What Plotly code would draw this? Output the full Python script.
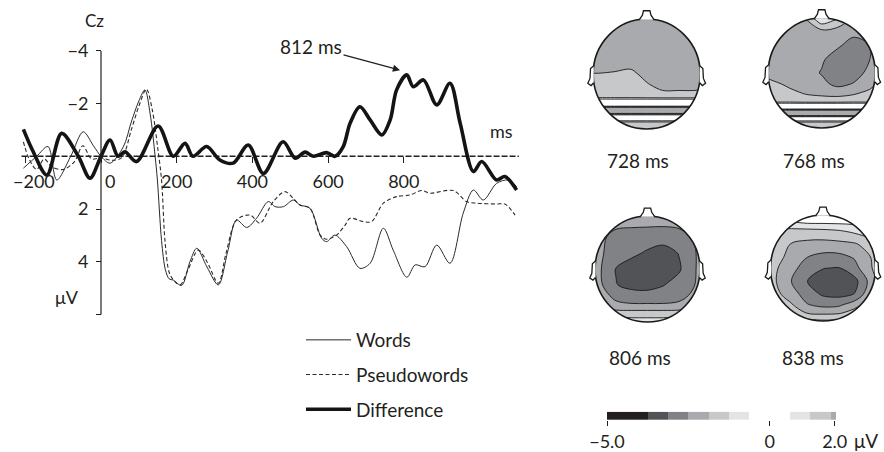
import numpy as np
import plotly.graph_objects as go

W, H = 884, 452

# ---------------- ERP waveforms at Cz (ms, microvolts; negative up) ----------------
words_ms = [-205, -170, -140, -117, -80, -47, -20, 0, 24, 59, 80, 100, 116, 130, 143, 149, 160, 170, 180,
            191, 213, 235, 253, 280, 310, 335, 358, 385, 411, 442, 460, 482, 508, 526, 552, 583, 596,
            618, 649, 684, 711, 746, 772, 808, 830, 856, 887, 922, 957, 984, 1010, 1045, 1076, 1098]
words_uv = [0.45, 0.0, -0.37, 0.9, 0.0, -0.93, -0.4, 0.0, 0.26, -0.36, -1.3, -2.1, -2.52, -1.6, 0.0, 0.9, 3.2, 4.3, 4.65,
            4.7, 4.9, 4.0, 3.49, 4.2, 4.88, 3.6, 2.42, 2.7, 2.35, 1.72, 1.91, 1.91, 1.66, 1.85, 1.97, 3.11, 3.24,
            2.99, 3.43, 4.25, 4.06, 2.73, 3.56, 4.59, 4.12, 4.19, 3.37, 4.06, 2.16, 1.28, 1.66, 1.03, 0.9, 1.15]

pseudo_ms = [-205, -190, -170, -150, -130, -100, -70, -48, -25, 0, 28, 55, 80, 100, 120, 135, 150, 160, 169,
             180, 191, 209, 230, 257, 280, 310, 330, 358, 394, 420, 455, 486, 508, 526, 552, 579, 596, 622,
             645, 658, 693, 715, 746, 781, 816, 847, 869, 931, 966, 993, 1045, 1067, 1094]
pseudo_uv = [-0.55, 0.1, 0.5, 0.1, 0.4, 0.5, 0.2, -0.4, 0.1, 0.05, 0.15, 0.05, -1.0, -1.9, -2.55, -1.8, -0.3, 0.9, 3.2,
             4.4, 4.69, 4.88, 4.3, 3.56, 4.0, 4.82, 3.7, 2.42, 2.23, 2.54, 1.72, 1.34, 1.6, 1.85, 1.97, 2.99, 3.15, 2.99,
             2.61, 2.35, 2.48, 2.48, 1.78, 1.53, 1.47, 1.3, 1.4, 1.3, 1.72, 1.78, 1.81, 1.81, 2.23]

diff_ms = [-205, -180, -143, -104, -60, -29, 0, 24, 45, 63, 94, 151, 191, 222, 243, 279, 314, 349, 389, 429,
           481, 513, 539, 561, 596, 618, 640, 658, 684, 711, 742, 764, 781, 808, 825, 852, 887, 922, 949,
           984, 1006, 1045, 1067, 1098]
diff_uv = [-1.02, -0.2, 0.71, -0.87, 0.0, 0.83, 0.0, -0.62, 0.0, -0.17, 0.2, -1.15, 0.0, -0.49, 0.0, -0.37, 0.14, 0.26, -0.43, 0.65,
           -0.55, 0.07, -0.16, 0.0, -0.14, 0.0, -0.37, -1.25, -1.88, -1.38, -0.81, -1.38, -2.52, -3.09, -2.64, -2.9, -1.95, -2.77, -1.25,
           0.58, 0.2, 0.9, 0.77, 1.28]

series_names = ["Words", "Pseudowords", "Difference"]

x_tick_vals = [-200, 0, 200, 400, 600, 800]
x_tick_text = ["", "\u00a0\u00a0\u00a0\u00a00", "200", "400", "600", "800"]
first_tick_label = "\u2212200"
y_tick_vals = [-4, -2, 2, 4, 6]
y_tick_text = ["\u22124", "\u22122", "2", "4", ""]

peak_label = "812 ms"
peak_ms, peak_uv = 790, -3.27

# ---------------- Scalp topographies (values in microvolts on a head grid) ----------------
map_u = [-1.1, -0.9, -0.6, -0.3, 0.0, 0.3, 0.6, 0.9, 1.1]
map_labels = ["728 ms", "768 ms", "806 ms", "838 ms"]

map1_v = [1.15, 0.6, 0.2, 0.0, -0.2, -0.42, -0.47, -0.58, -0.61, -0.71, -0.75, -0.84, -0.88, -1.15]
map1_z = [
    [-2.2, -2.2, -2.2, -2.2, -2.2, -2.2, -2.2, -2.2, -2.2],
    [-2.2, -2.2, -2.2, -2.2, -2.2, -2.2, -2.2, -2.2, -2.2],
    [-2.2, -2.2, -2.15, -2.1, -2.2, -2.2, -2.2, -2.2, -2.2],
    [-1.85, -1.85, -1.8, -1.7, -2.1, -2.2, -2.2, -2.2, -2.2],
    [-1.5, -1.5, -1.5, -1.5, -1.8, -2.1, -2.1, -2.1, -2.0],
    [-1.5, -1.5, -1.5, -1.5, -1.55, -1.6, -1.6, -1.6, -1.6],
    [-0.3, -0.3, -0.3, -0.3, -0.3, -0.3, -0.3, -0.3, -0.3],
    [-0.3, -0.3, -0.3, -0.3, -0.3, -0.3, -0.3, -0.3, -0.3],
    [-2.2, -2.2, -2.2, -2.2, -2.2, -2.2, -2.2, -2.2, -2.2],
    [-2.2, -2.2, -2.2, -2.2, -2.2, -2.2, -2.2, -2.2, -2.2],
    [-0.3, -0.3, -0.3, -0.3, -0.3, -0.3, -0.3, -0.3, -0.3],
    [-0.3, -0.3, -0.3, -0.3, -0.3, -0.3, -0.3, -0.3, -0.3],
    [-1.5, -1.5, -1.5, -1.5, -1.5, -1.5, -1.5, -1.5, -1.5],
    [-1.5, -1.5, -1.5, -1.5, -1.5, -1.5, -1.5, -1.5, -1.5],
]

map2_v = [1.15, 0.95, 0.75, 0.5, 0.25, 0.0, -0.2, -0.35, -0.52, -0.56, -0.65, -0.68, -0.77, -0.8, -0.86, -0.9, -1.15]
map2_z = [
    [-2.2, -2.2, -2.2, -1.2, -0.3, -0.6, -2.2, -2.2, -2.2],
    [-2.2, -2.2, -2.2, -2.0, -0.9, -1.4, -2.2, -2.2, -2.2],
    [-2.2, -2.2, -2.2, -2.2, -2.1, -2.2, -2.3, -2.2, -2.2],
    [-2.2, -2.2, -2.2, -2.2, -2.2, -2.4, -2.8, -2.5, -2.2],
    [-2.2, -2.2, -2.2, -2.2, -2.4, -2.85, -2.85, -2.5, -2.2],
    [-2.0, -2.2, -2.2, -2.2, -2.55, -2.9, -2.8, -2.3, -2.1],
    [-1.6, -1.75, -2.0, -2.1, -2.3, -2.7, -2.45, -2.1, -1.7],
    [-1.5, -1.5, -1.75, -1.95, -2.05, -2.1, -2.0, -1.75, -1.5],
    [-1.5, -1.5, -1.5, -1.6, -1.6, -1.6, -1.5, -1.5, -1.5],
    [-0.3, -0.3, -0.3, -0.3, -0.3, -0.3, -0.3, -0.3, -0.3],
    [-0.3, -0.3, -0.3, -0.3, -0.3, -0.3, -0.3, -0.3, -0.3],
    [-2.2, -2.2, -2.2, -2.2, -2.2, -2.2, -2.2, -2.2, -2.2],
    [-2.2, -2.2, -2.2, -2.2, -2.2, -2.2, -2.2, -2.2, -2.2],
    [-0.3, -0.3, -0.3, -0.3, -0.3, -0.3, -0.3, -0.3, -0.3],
    [-0.3, -0.3, -0.3, -0.3, -0.3, -0.3, -0.3, -0.3, -0.3],
    [-1.5, -1.5, -1.5, -1.5, -1.5, -1.5, -1.5, -1.5, -1.5],
    [-1.5, -1.5, -1.5, -1.5, -1.5, -1.5, -1.5, -1.5, -1.5],
]

map3_v = [1.15, 0.9, 0.6, 0.3, 0.0, -0.3, -0.5, -0.65, -0.75, -0.85, -0.95, -1.15]
map3_z = [
    [-1.5, -1.5, -1.8, -2.2, -2.2, -2.2, -1.8, -1.5, -1.5],
    [-1.5, -2.0, -2.2, -2.3, -2.3, -2.3, -2.2, -2.0, -1.5],
    [-1.7, -2.3, -2.8, -2.8, -2.85, -2.9, -2.85, -2.4, -1.7],
    [-1.8, -2.4, -2.85, -3.0, -3.2, -3.35, -3.1, -2.6, -1.8],
    [-1.8, -2.45, -3.15, -3.4, -3.45, -3.4, -3.2, -2.6, -1.8],
    [-1.8, -2.4, -3.1, -3.3, -3.3, -3.15, -2.9, -2.5, -1.8],
    [-1.7, -2.2, -2.7, -2.9, -2.95, -2.9, -2.8, -2.3, -1.7],
    [-1.5, -2.0, -2.4, -2.5, -2.5, -2.5, -2.4, -2.0, -1.5],
    [-1.2, -1.6, -2.0, -2.0, -2.0, -2.0, -2.0, -1.6, -1.2],
    [-0.8, -1.2, -1.5, -1.6, -1.6, -1.6, -1.5, -1.2, -0.8],
    [-0.3, -0.6, -1.0, -1.1, -1.1, -1.1, -1.0, -0.6, -0.3],
    [-0.3, -0.3, -0.3, -0.3, -0.3, -0.3, -0.3, -0.3, -0.3],
]

map4_v = [1.15, 0.9, 0.7, 0.45, 0.2, 0.0, -0.25, -0.5, -0.7, -0.85, -0.95, -1.15]
map4_z = [
    [-0.3, -0.3, -0.3, -0.3, -0.3, -0.3, -0.3, -0.4, -0.6],
    [-0.8, -0.7, -0.5, -0.3, -0.3, -0.3, -0.3, -0.3, -0.3],
    [-1.2, -1.4, -1.45, -1.45, -1.4, -1.3, -1.1, -0.8, -0.6],
    [-1.3, -1.7, -1.9, -2.05, -2.1, -2.05, -1.95, -1.6, -1.2],
    [-1.4, -1.75, -2.0, -2.5, -2.7, -2.7, -2.45, -1.9, -1.3],
    [-1.4, -1.8, -2.3, -2.8, -3.1, -3.15, -2.7, -2.0, -1.3],
    [-1.45, -1.85, -2.5, -3.12, -3.4, -3.5, -3.35, -2.3, -1.5],
    [-1.3, -1.7, -2.2, -2.8, -3.2, -3.3, -3.1, -2.0, -1.3],
    [-1.0, -1.3, -1.8, -2.45, -2.65, -2.6, -2.1, -1.5, -1.0],
    [-0.7, -1.0, -1.4, -1.9, -2.0, -1.95, -1.6, -1.1, -0.7],
    [-0.4, -0.7, -1.0, -1.3, -1.4, -1.35, -1.1, -0.8, -0.4],
    [-0.3, -0.3, -0.3, -0.5, -0.5, -0.5, -0.3, -0.3, -0.3],
]

maps_v = [map1_v, map2_v, map3_v, map4_v]
maps_z = [map1_z, map2_z, map3_z, map4_z]

# colour scale (microvolt levels and the grey of each band above a level)
scale_levels = [-5.0, -4.375, -3.75, -3.125, -2.5, -1.875, -1.25, -0.625, 0.0, 0.625, 1.25, 1.875]
scale_colors = ["#231f20", "#231f20", "#525356", "#818285", "#a9aaad", "#c7c8ca",
                "#e3e4e5", "#ffffff", "#ffffff", "#e3e4e5", "#c7c8ca", "#a9aaad"]
scale_tick_vals = [-5, 0, 2]
scale_tick_text = ["\u22125.0", "0", "2.0"]

# ---------------- helpers ----------------
FONT = "Lato, 'Open Sans', sans-serif"
INK = "#231f20"


def px_x(p):
    return p / W


def px_y(p):
    return 1 - p / H


n_lev = len(scale_levels)
cscale = []
for k, c in enumerate(scale_colors):
    lo = 0.0 if k == 0 else (k + 0.5) / n_lev
    hi = 1.0 if k == n_lev - 1 else (k + 1.5) / n_lev
    cscale.append([lo, c])
    cscale.append([hi, c])

fig = go.Figure()

# ---------------- ERP traces ----------------
fig.add_trace(go.Scatter(x=words_ms, y=words_uv, mode="lines", name=series_names[0],
                         line=dict(color="#2a2a2a", width=1.0, shape="spline", smoothing=0.9),
                         legendgroup="a", hoverinfo="skip"))
fig.add_trace(go.Scatter(x=pseudo_ms, y=pseudo_uv, mode="lines", name=series_names[1],
                         line=dict(color="#2a2a2a", width=1.1, dash="4px,2.5px", shape="spline", smoothing=0.9),
                         legendgroup="b", hoverinfo="skip"))
fig.add_trace(go.Scatter(x=diff_ms, y=diff_uv, mode="lines", name=series_names[2],
                         line=dict(color="#141414", width=3.6, shape="spline", smoothing=0.9),
                         legendgroup="c", hoverinfo="skip"))

# ---------------- topomaps ----------------
map_geom = [  # centre x, centre y, radius x, radius y (px)
    (646.7, 74, 53.5, 55),
    (821.7, 73, 53.5, 55),
    (647.5, 269, 52.5, 53),
    (823.0, 268, 52.5, 53),
]
UR, VR = 1.15, 1.2
for i in range(4):
    ax = i + 2
    fig.add_trace(go.Contour(
        x=map_u, y=maps_v[i][::-1], z=maps_z[i][::-1],
        autocontour=False,
        contours=dict(start=scale_levels[0], end=scale_levels[-1], size=scale_levels[1] - scale_levels[0],
                      coloring="fill", showlines=True),
        line=dict(color="#1a1a1a", width=0.9, smoothing=1.0),
        colorscale=cscale, showscale=False, hoverinfo="skip",
        xaxis=f"x{ax}", yaxis=f"y{ax}", showlegend=False))

# colour bar
scale_edges = scale_levels + [scale_levels[-1] + (scale_levels[1] - scale_levels[0])]
fig.add_trace(go.Heatmap(x=scale_edges, y=[0, 1], z=[list(range(n_lev))], zmin=-1, zmax=n_lev - 1,
                         colorscale=cscale, showscale=False, hoverinfo="skip",
                         xaxis="x6", yaxis="y6", showlegend=False))

# ---------------- layout ----------------
x_lo_px, x_hi_px = 20, 520
ms0_px, px_per_ms = 101.0, 0.3785
y_top_px, y_bot_px = 40, 320
uv0_px, px_per_uv = 156.3, 26.35

layout = dict(
    template="none",
    width=W, height=H, margin=dict(l=0, r=0, t=0, b=0, pad=0, autoexpand=False),
    paper_bgcolor="white", plot_bgcolor="rgba(0,0,0,0)",
    font=dict(family=FONT, color=INK, size=18),
    showlegend=True,
    legend=dict(x=px_x(301), y=px_y(321), xanchor="left", yanchor="top",
                traceorder="grouped", tracegroupgap=7, itemwidth=45,
                font=dict(family=FONT, size=19, color=INK), bgcolor="rgba(0,0,0,0)", borderwidth=0),
    xaxis=dict(domain=[px_x(x_lo_px), px_x(x_hi_px)],
               range=[(x_lo_px - ms0_px) / px_per_ms, (x_hi_px - ms0_px) / px_per_ms],
               anchor="free", position=px_y(uv0_px), showline=False, showgrid=False, zeroline=False,
               automargin=False,
               tickvals=x_tick_vals, ticktext=x_tick_text, ticks="outside", ticklen=6, tickwidth=1,
               tickcolor=INK, tickfont=dict(size=18, family=FONT, color=INK), ticklabelstandoff=3),
    yaxis=dict(domain=[px_y(y_bot_px), px_y(y_top_px)],
               range=[(y_bot_px - uv0_px) / px_per_uv, (y_top_px - uv0_px) / px_per_uv],
               anchor="free", position=px_x(ms0_px), showline=False, showgrid=False, zeroline=False,
               automargin=False,
               tickvals=y_tick_vals, ticktext=y_tick_text, ticks="outside", ticklen=5, tickwidth=1,
               tickcolor=INK, tickfont=dict(size=18, family=FONT, color=INK), ticklabelstandoff=4),
)

theta = np.linspace(0, 2 * np.pi, 97)
circle_pts = "L".join(f"{np.cos(t):.4f},{np.sin(t):.4f}" for t in theta)
mask_path = "M-1.6,-1.6L1.6,-1.6L1.6,1.6L-1.6,1.6Z M" + circle_pts + "Z"
nose_path = "M-0.14,0.985L-0.08,1.07L-0.06,1.15L0.06,1.15L0.08,1.07L0.14,0.985"
ear_l = "M-0.99,0.15L-1.05,0.1L-1.06,-0.08L-1.1,-0.17L-1.04,-0.21L-0.99,-0.16"
ear_r = "M0.99,0.15L1.05,0.1L1.06,-0.08L1.1,-0.17L1.04,-0.21L0.99,-0.16"

shapes = [
    dict(type="line", xref="x", yref="y", x0=0, x1=0, y0=-4, y1=6, line=dict(color=INK, width=1.2), layer="above"),
    dict(type="line", xref="x", yref="y", x0=-210, x1=1104, y0=0, y1=0,
         line=dict(color=INK, width=1.6, dash="6px,2px"), layer="below"),
]


def text_at(text, xp, yp, size):
    return dict(text=text, x=px_x(xp), y=px_y(yp), xref="paper", yref="paper", showarrow=False,
                xanchor="center", yanchor="middle", font=dict(size=size))


annotations = [
    text_at("Cz", 94, 20.5, 17),
    text_at("ms", 501, 131, 18),
    text_at("\u03bcV", 67, 297, 18),
    text_at(first_tick_label, 34, 180.5, 18),
    dict(text=peak_label, x=peak_ms, y=peak_uv, xref="x", yref="y", showarrow=True,
         ax=-89, ay=-24, arrowhead=2, arrowsize=1.1, arrowwidth=1.3, arrowcolor=INK,
         xanchor="center", yanchor="middle", font=dict(size=19)),
    text_at("\u03bcV", 866, 440, 19),
]

label_pos = [(637.5, 160), (814, 160), (640, 357.5), (813, 357.5)]

for i, (cx, cy, rx, ry) in enumerate(map_geom):
    ax = i + 2
    layout[f"xaxis{ax}"] = dict(domain=[px_x(cx - UR * rx), px_x(cx + UR * rx)], range=[-UR, UR],
                                visible=False, anchor=f"y{ax}", fixedrange=True, automargin=False)
    layout[f"yaxis{ax}"] = dict(domain=[px_y(cy + VR * ry), px_y(cy - VR * ry)], range=[-VR, VR],
                                visible=False, anchor=f"x{ax}", fixedrange=True, automargin=False)
    xr, yr = f"x{ax}", f"y{ax}"
    shapes.append(dict(type="path", xref=xr, yref=yr, path=mask_path, fillcolor="white",
                       fillrule="evenodd", line=dict(width=0), layer="above"))
    shapes.append(dict(type="circle", xref=xr, yref=yr, x0=-1, x1=1, y0=-1, y1=1,
                       line=dict(color="#1a1a1a", width=1.6), layer="above"))
    for p in (nose_path, ear_l, ear_r):
        shapes.append(dict(type="path", xref=xr, yref=yr, path=p, fillcolor="white",
                           line=dict(color="#1a1a1a", width=1.3), layer="above"))
    lx, ly = label_pos[i]
    annotations.append(text_at(map_labels[i], lx, ly, 19))

layout["xaxis6"] = dict(domain=[px_x(607), px_x(836)], range=[-5.0, 2.04], anchor="y6",
                        showline=False, showgrid=False, zeroline=False, automargin=False,
                        tickvals=scale_tick_vals, ticktext=scale_tick_text, ticks="outside",
                        ticklen=5, tickwidth=1, tickcolor=INK,
                        tickfont=dict(size=18, family=FONT, color=INK), ticklabelstandoff=0)
layout["yaxis6"] = dict(domain=[px_y(420), px_y(411.7)], range=[0, 1], visible=False, anchor="x6",
                        automargin=False)

layout["shapes"] = shapes
layout["annotations"] = annotations
fig.update_layout(**layout)

fig.write_html("out.html", config={"displayModeBar": False},
               post_script="document.body.style.margin='0px';")
